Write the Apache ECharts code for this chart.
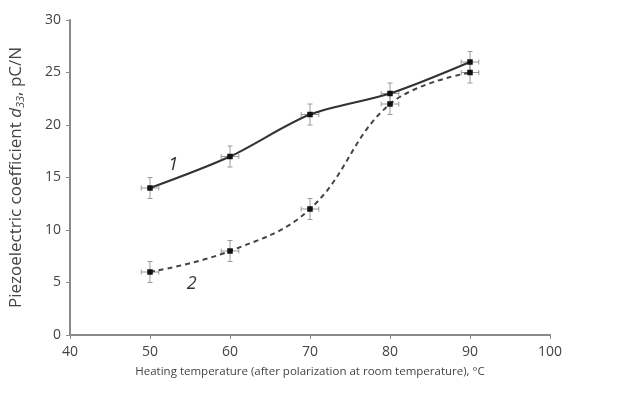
<!DOCTYPE html>
<html>
<head>
<meta charset="utf-8">
<script src="https://cdn.jsdelivr.net/npm/echarts@6/dist/echarts.min.js"></script>
<style>
  html, body {margin: 0; padding: 0; background: #fff;}
  #main {width: 619px; height: 394px;}
</style>
</head>
<body>
<div id="main"></div>
<script>
  // heating temperature, °C
  const temps = [50, 60, 70, 80, 90];
  // d33, pC/N
  const curve1 = [14, 17, 21, 23, 26];
  const curve2 = [6, 8, 12, 22, 25];
  const errY = 1;    // pC/N
  const errX = 1.1;  // °C

  const chart = echarts.init(document.getElementById('main'));
  const font = "'Open Sans', 'Noto Sans', sans-serif";
  const axisGray = '#8a8a8a';

  const pts1 = temps.map((t, i) => [t, curve1[i]]);
  const pts2 = temps.map((t, i) => [t, curve2[i]]);

  // cross-shaped error bars with small caps
  function errorBars(params, api) {
    const x = api.value(0), y = api.value(1);
    const c = api.coord([x, y]);
    const top = api.coord([x, y + errY]);
    const bot = api.coord([x, y - errY]);
    const lft = api.coord([x - errX, y]);
    const rgt = api.coord([x + errX, y]);
    const cap = 2.5;
    const style = {stroke: '#9a9a9a', lineWidth: 1};
    const line = (x1, y1, x2, y2) => ({type: 'line', shape: {x1, y1, x2, y2}, style});
    return {
      type: 'group',
      children: [
        line(c[0], top[1], c[0], bot[1]),
        line(c[0] - cap, top[1], c[0] + cap, top[1]),
        line(c[0] - cap, bot[1], c[0] + cap, bot[1]),
        line(lft[0], c[1], rgt[0], c[1]),
        line(lft[0], c[1] - cap, lft[0], c[1] + cap),
        line(rgt[0], c[1] - cap, rgt[0], c[1] + cap)
      ]
    };
  }

  chart.setOption({
    animation: false,
    textStyle: {fontFamily: font},
    grid: {left: 70, right: 69, top: 20, bottom: 59},
    xAxis: {
      type: 'value',
      min: 40, max: 100, interval: 10,
      name: 'Heating temperature (after polarization at room temperature), °C',
      nameLocation: 'middle',
      nameGap: 31,
      nameTextStyle: {color: '#444', fontSize: 11.5, fontFamily: font},
      axisLine: {lineStyle: {color: axisGray, width: 2}},
      axisTick: {lineStyle: {color: axisGray}, length: 4},
      axisLabel: {color: '#444', fontSize: 14, margin: 10},
      splitLine: {show: false}
    },
    yAxis: {
      type: 'value',
      min: 0, max: 30, interval: 5,
      name: '{n|Piezoelectric coefficient }{i|d}{s|33}{n|, pC/N}',
      nameLocation: 'middle',
      nameGap: 44,
      nameTextStyle: {
        color: '#444', fontSize: 17,
        rich: {
          n: {fontSize: 17, color: '#444', fontFamily: font},
          i: {fontSize: 17, color: '#444', fontStyle: 'italic', fontFamily: font},
          s: {fontSize: 11, color: '#444', fontStyle: 'italic', verticalAlign: 'bottom', padding: [8, 0, 0, 0], fontFamily: font}
        }
      },
      axisLine: {show: true, lineStyle: {color: axisGray, width: 2}},
      axisTick: {show: true, lineStyle: {color: axisGray}, length: 4},
      axisLabel: {color: '#444', fontSize: 14, margin: 9},
      splitLine: {show: false}
    },
    series: [
      {
        type: 'custom',
        renderItem: errorBars,
        data: pts1,
        z: 1
      },
      {
        type: 'custom',
        renderItem: errorBars,
        data: pts2,
        z: 1
      },
      {
        type: 'line',
        data: pts1,
        smooth: 0.3,
        symbol: 'rect',
        symbolSize: 5.5,
        itemStyle: {color: '#111'},
        lineStyle: {color: '#333', width: 2},
        z: 3,
        markPoint: {
          symbol: 'circle', symbolSize: 0,
          label: {show: true, formatter: '1', fontSize: 18, fontStyle: 'italic', color: '#333'},
          data: [{coord: [52.9, 16.2]}]
        }
      },
      {
        type: 'line',
        data: pts2,
        smooth: 0.4,
        symbol: 'rect',
        symbolSize: 5.5,
        itemStyle: {color: '#111'},
        lineStyle: {color: '#444', width: 2, type: [5, 4]},
        z: 3,
        markPoint: {
          symbol: 'circle', symbolSize: 0,
          label: {show: true, formatter: '2', fontSize: 18, fontStyle: 'italic', color: '#333'},
          data: [{coord: [55.2, 4.9]}]
        }
      }
    ]
  });
</script>
</body>
</html>
